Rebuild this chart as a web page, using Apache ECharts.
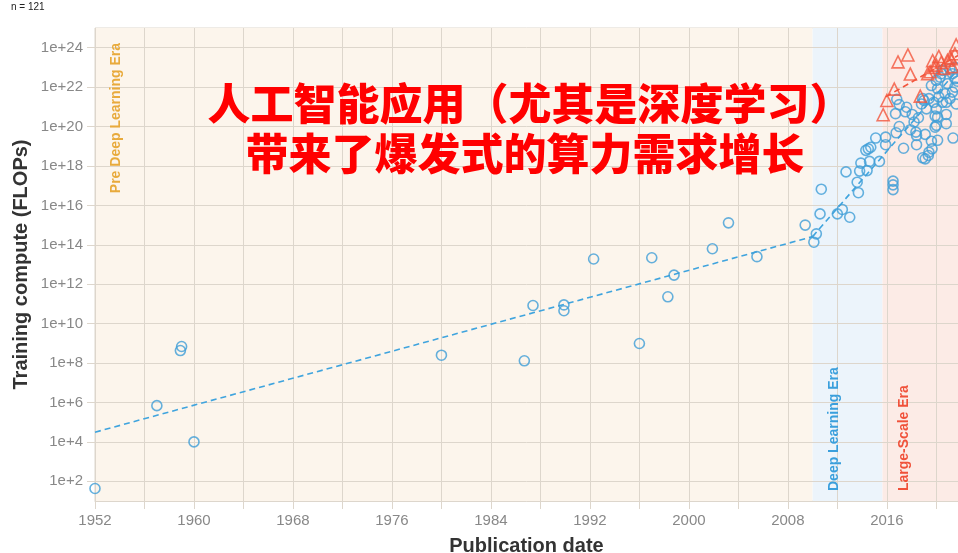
<!DOCTYPE html>
<html><head><meta charset="utf-8">
<script src="https://cdn.jsdelivr.net/npm/echarts@6/dist/echarts.min.js"></script>
<style>html,body{margin:0;padding:0;background:#fff}#c{width:958px;height:553px}</style>
</head><body><div id="c"></div>
<script>
// ---------- axes ----------
const xMin = 1952, xMax = 2021.75, xInterval = 4, xLabelStep = 8;
const yMinExp = 1, yMaxExp = 25;
const yTickExps = [2,4,6,8,10,12,14,16,18,20,22,24];

// ---------- eras ----------
const eraNames  = ['Pre Deep Learning Era', 'Deep Learning Era', 'Large-Scale Era'];
const eraStarts = [1952, 2010, 2015.65];
const eraEnds   = [2010, 2015.65, 2021.75];

// ---------- data (publication year, training FLOPs) ----------
const preDLYears = [1952.0,1957.0,1958.9,1959.0,1960.0,1980.0,1986.7,1987.4,1989.9,1989.9,1992.3,1996.0,1997.0,1998.3,1998.8,2001.9,2003.2,2005.5,2009.4];
const preDLFlops = [4.3e1,6.9e5,4.3e8,6.9e8,1.0e4,2.5e8,1.3e8,8.3e10,8.9e10,4.5e10,1.9e13,9.8e8,2.2e13,2.3e11,2.9e12,6.3e13,1.3e15,2.5e13,1.0e15];

const dlYears = [2010.1,2010.3,2010.6,2010.7,2012.0,2012.4,2012.7,2013.0,2013.6,2013.7,2013.8,2013.9,2014.3,2014.4,2014.5,2014.6,2014.7,2015.1,2015.4];
const dlFlops = [1.35e14,3.6e14,3.7e15,6.6e16,3.7e15,6.2e15,5.0e17,2.5e15,1.5e17,4.4e16,5.5e17,1.4e18,6.2e18,5.8e17,7.4e18,1.7e18,8.9e18,2.6e19,1.7e18];

const lsRegularYears = [2015.9,2015.9,2016.5,2016.5,2016.5,2016.7,2016.75,2016.8,2017.0,2017.0,2017.35,2017.5,2017.6,2017.9,2018.05,2018.2,2018.35,2018.4,2018.4,2018.55,2018.8,2018.9,2018.9,2019.0,2019.1,2019.1,2019.2,2019.35,2019.4,2019.4,2019.6,2019.6,2019.65,2019.8,2019.9,2019.9,2020.0,2020.0,2020.0,2020.1,2020.1,2020.1,2020.2,2020.3,2020.4,2020.5,2020.5,2020.7,2020.8,2020.8,2020.8,2020.9,2021.1,2021.1,2021.3,2021.3,2021.35,2021.5,2021.5,2021.5,2021.6,2021.7];
const lsRegularFlops = [2.9e19,1.2e19,1.7e17,1.1e17,6.3e16,4.5e20,4.8e19,2.4e21,1.0e20,1.3e21,7.9e18,5.6e20,9.5e20,6.9e19,4.1e20,1.7e20,5.2e19,1.2e19,3.5e19,2.8e20,1.4e21,2.6e21,2.6e18,2.1e21,4.0e19,2.3e18,7.9e20,3.4e18,5.0e18,2.6e21,1.2e22,1.8e19,7.4e18,1.7e21,3.4e20,9.3e19,2.2e22,1.15e20,7.9e20,8.3e21,3.0e20,2.0e19,3.2e21,3.2e22,4.8e22,7.1e22,1.7e21,4.6e21,1.4e20,4.1e20,1.7e21,1.5e22,8.5e22,2.6e21,5.6e21,4.8e22,2.6e19,1.0e23,2.7e22,1.0e22,1.4e21,2.0e22];

const lsLargeYears = [2015.7,2016.0,2016.6,2016.9,2017.7,2017.9,2018.7,2019.3,2019.5,2019.7,2019.8,2020.0,2020.2,2020.4,2020.6,2020.9,2021.1,2021.2,2021.3,2021.5,2021.6];
const lsLargeFlops = [4.0e20,2.1e21,7.9e21,1.9e23,4.3e23,4.6e22,3.5e21,4.8e22,6.0e22,2.2e23,1.0e23,1.3e23,3.6e23,1.8e23,8.9e22,2.3e23,3.2e23,2.8e23,1.1e23,4.9e23,1.4e24];

// ---------- trend lines (endpoints) ----------
const preDLTrendYears = [1952, 2010];
const preDLTrendFlops = [3.1e4, 2.6e14];
const dlTrendYears = [2010, 2021.75];
const dlTrendFlops = [2.6e14, 7.9e22];
const lsTrendYears = [2015.9, 2021.75];
const lsTrendFlops = [3.2e21, 4.0e23];

const nCount = 'n = 121';
const headline1 = '人工智能应用（尤其是深度学习）';
const headline2 = '带来了爆发式的算力需求增长';

// ---------- styling ----------
const BLUE = '#3f9dd7', RED = '#f2553c', GRID = '#ddd6cc';
const eraBg = ['#fcf5ec', '#ecf4fb', '#fcebe6'];
const eraText = ['#e8aa3c', '#3a9fdc', '#f0513a'];
const SANS = '"Liberation Sans", Arial, Helvetica, sans-serif';

const toPts = (xs, ys) => xs.map((x, i) => [x, Math.log10(ys[i])]);
const bluePts = toPts(preDLYears, preDLFlops).concat(toPts(dlYears, dlFlops), toPts(lsRegularYears, lsRegularFlops));
const redPts = toPts(lsLargeYears, lsLargeFlops);

const chart = echarts.init(document.getElementById('c'), null, {renderer: 'canvas'});

const trend = (xs, ys, color) => ({
  type: 'line', data: toPts(xs, ys), showSymbol: false, silent: true, z: 3,
  lineStyle: {color: color, width: 1.6, type: [6, 4]}
});

chart.setOption({
  animation: false,
  grid: {left: 95, right: 0, top: 28, bottom: 52, outerBoundsMode: 'none', containLabel: false,
         show: true, borderColor: GRID, borderWidth: 1, backgroundColor: 'transparent'},
  xAxis: {
    type: 'value', min: xMin, max: xMax, interval: xInterval, z: 1.5,
    axisLine: {show: true, lineStyle: {color: GRID}},
    axisTick: {show: true, length: 8, lineStyle: {color: GRID}},
    splitLine: {show: true, lineStyle: {color: GRID, width: 1}},
    axisLabel: {
      color: '#888', fontSize: 15, fontFamily: SANS, margin: 12, showMaxLabel: false,
      formatter: v => ((v - xMin) % xLabelStep === 0 ? String(v) : '')
    },
    name: 'Publication date', nameLocation: 'middle', nameGap: 35, nameMoveOverlap: false,
    nameTextStyle: {fontSize: 20, fontWeight: 'bold', color: '#333', fontFamily: SANS}
  },
  yAxis: {
    type: 'value', min: yMinExp, max: yMaxExp, z: 1.5,
    axisLine: {show: false},
    axisTick: {show: true, length: 8, customValues: yTickExps, lineStyle: {color: GRID}},
    splitLine: {show: true, lineStyle: {color: GRID, width: 1}},
    axisLabel: {
      color: '#888', fontSize: 15, fontFamily: SANS, margin: 12, customValues: yTickExps,
      formatter: v => '1e+' + v
    },
    name: 'Training compute (FLOPs)', nameLocation: 'middle', nameGap: 64, nameRotate: 90, nameMoveOverlap: false,
    nameTextStyle: {fontSize: 20, fontWeight: 'bold', color: '#333', fontFamily: SANS}
  },
  series: [
    {
      type: 'line', data: [], silent: true,
      markArea: {
        silent: true,
        data: eraNames.map((n, i) => [
          {xAxis: eraStarts[i], itemStyle: {color: eraBg[i]}},
          {xAxis: eraEnds[i]}
        ])
      }
    },
    trend(preDLTrendYears, preDLTrendFlops, '#3fa4de'),
    trend(dlTrendYears, dlTrendFlops, '#3fa4de'),
    trend(lsTrendYears, lsTrendFlops, RED),
    {
      type: 'scatter', data: bluePts, symbol: 'circle', symbolSize: 10, z: 4, silent: true,
      itemStyle: {color: 'rgba(0,0,0,0)', borderColor: BLUE, borderWidth: 1.6}
    },
    {
      type: 'scatter', data: redPts, symbol: 'triangle', symbolSize: 12, z: 4, silent: true,
      itemStyle: {color: 'rgba(0,0,0,0)', borderColor: RED, borderWidth: 1.6}
    }
  ]
});

// era labels anchored on the era start positions
const gridTop = chart.convertToPixel({gridIndex: 0}, [xMin, yMaxExp])[1];
const gridBottom = chart.convertToPixel({gridIndex: 0}, [xMin, yMinExp])[1];
const graphics = eraNames.map((name, i) => {
  const px = chart.convertToPixel({gridIndex: 0}, [eraStarts[i], yMinExp])[0];
  const first = i === 0;
  return {
    type: 'text', x: px + 21.5, y: first ? gridTop + 15 : gridBottom - 10,
    rotation: Math.PI / 2, z: 5, silent: true,
    style: {text: name, fill: eraText[i], font: 'bold 14px ' + SANS, align: first ? 'right' : 'left', verticalAlign: 'middle'}
  };
});
const CJK = '900 43px "Noto Sans CJK SC", sans-serif';
graphics.push(
  {type: 'text', x: 11, y: 7, z: 5, silent: true,
   style: {text: nCount, fill: '#222', font: '10px ' + SANS, align: 'left', verticalAlign: 'middle'}},
  {type: 'text', x: 530, y: 104, z: 6, silent: true,
   style: {text: headline1, fill: '#ff0000', font: CJK, align: 'center', verticalAlign: 'middle'}},
  {type: 'text', x: 525, y: 154, z: 6, silent: true,
   style: {text: headline2, fill: '#ff0000', font: CJK, align: 'center', verticalAlign: 'middle'}}
);
chart.setOption({graphic: graphics});
</script>
</body></html>
